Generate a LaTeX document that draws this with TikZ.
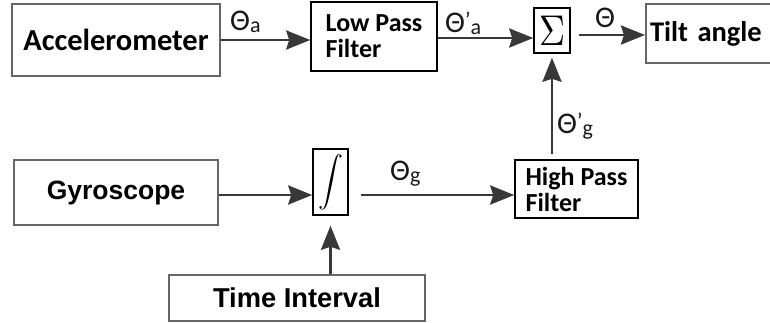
\documentclass[tikz,border=0pt]{standalone}
\usepackage{fontspec}
\usepackage{graphicx}
\setmainfont{Carlito}
\newfontfamily\arialfont{Liberation Sans}
\usetikzlibrary{arrows.meta,calc}
\newcommand\thlab[2]{{\fontsize{30}{30}\selectfont Θ}{\fontsize{22}{22}\selectfont #1\raisebox{-2pt}{#2}}}
\newcommand\prm{\raisebox{5pt}{’}}
\begin{document}
\begin{tikzpicture}[x=1pt,y=-1pt,
  graybox/.style={draw=black!60, line width=2pt, fill=white, inner sep=0pt},
  blackbox/.style={draw=black, line width=1.5pt, fill=white, inner sep=0pt},
  calib/.style={font=\fontsize{#1}{#1}\selectfont\bfseries},
  arialb/.style={font=\arialfont\fontsize{#1}{#1}\selectfont\bfseries},
  arr/.style={draw=black!78, line width=2.8pt, -{Stealth[length=24pt,width=19pt,inset=3pt]}},
  lab/.style={anchor=base west, inner sep=0pt, text=black!90}
]
\useasboundingbox (0,0) rectangle (770,322);
\clip (0,0) rectangle (770,322);
\fill[white] (0,0) rectangle (770,322);

\node[graybox, calib=30.5, minimum width=208pt, minimum height=72pt] (acc) at (116,40) {Accelerometer};
\node[blackbox, calib=26, minimum width=126pt, minimum height=69pt, align=left] (lpf) at (374,36.5) {\fontsize{26}{32}\selectfont Low Pass\\Filter};
\node[blackbox, minimum width=36pt, minimum height=45pt] (sig) at (552,30.5) {\scalebox{3.6}[4.3]{$\Sigma$}};
\node[graybox, calib=28.5, anchor=west, text width=125pt, inner xsep=4pt, minimum height=59pt, align=left] (tilt) at (645,33.5) {Tilt angle};

\node[graybox, arialb=26.5, minimum width=204pt, minimum height=65pt] (gyro) at (116,192.5) {Gyroscope};
\node[blackbox, minimum width=35pt, minimum height=66pt] (int) at (330.5,182) {\scalebox{2.5}{$\displaystyle\int$}};
\node[blackbox, calib=26, minimum width=123pt, minimum height=58pt, align=left] (hpf) at (576.5,189) {\fontsize{26}{32}\selectfont High Pass\\Filter};
\node[graybox, arialb=27.3, minimum width=256pt, minimum height=46pt] (time) at (297,298) {Time Interval};

\draw[arr] (acc.east) -- (acc.east -| lpf.west);
\draw[arr] ($(lpf.east)+(0,1.5)$) -- ($(lpf.east -| sig.west)+(0,1.5)$);
\draw[arr, shorten <=8pt] ($(sig.east)+(0,4.5)$) -- ($(sig.east -| tilt.west)+(0,4.5)$);
\draw[arr, shorten <=5pt, shorten >=4pt] (sig.south |- hpf.north) -- (sig.south);
\draw[arr] ($(gyro.east)+(0,2.5)$) -- ($(gyro.east -| int.west)+(0,2.5)$);
\draw[arr, shorten <=12pt] ($(int.east)+(0,13)$) -- ($(int.east -| hpf.west)+(0,13)$);
\draw[arr, shorten >=10pt] (time.north -| int.south) -- (int.south);

\node[lab] (la) at (230,30) {\thlab{}{a}};
\node[lab] (lpa) at (445,32) {\thlab{\prm}{a}};
\node[lab] (lt) at (595,27) {\thlab{}{}};
\node[lab] (lpg) at (557,133) {\thlab{\prm}{g}};
\node[lab] (lg) at (390,180) {\thlab{}{g}};
\end{tikzpicture}
\end{document}
